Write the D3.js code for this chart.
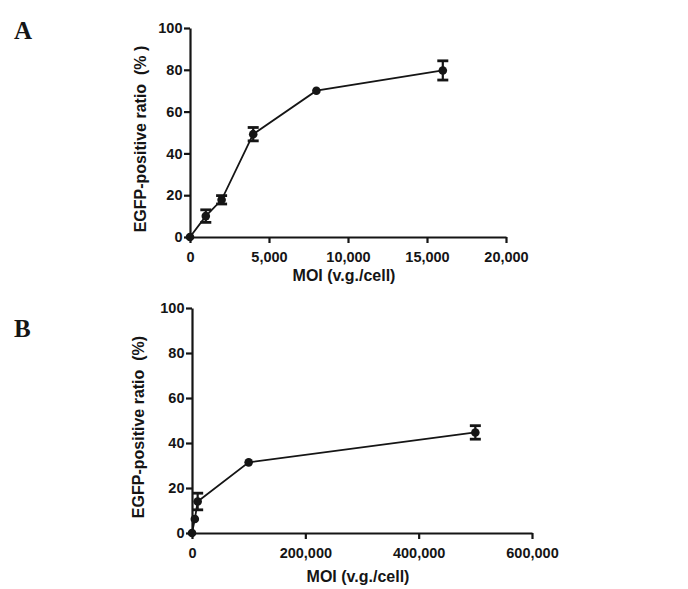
<!DOCTYPE html>
<html><head><meta charset="utf-8">
<script src="https://cdn.jsdelivr.net/npm/d3@7"></script>
<style>body{margin:0;background:#fff}svg{display:block}</style>
</head><body>
<svg id="c" width="688" height="589"></svg>
<script>
// Panel A data
const moiA = [0, 1000, 2000, 4000, 8000, 16000];
const ratioA = [0, 10, 17.8, 49.2, 70, 79.7];
const errA = [0, 3, 2, 3.2, 0, 4.6];
const xTicksA = [0, 5000, 10000, 15000, 20000];
// Panel B data
const moiB = [0, 5000, 10000, 100000, 500000];
const ratioB = [0, 6.2, 14, 31.4, 44.7];
const errB = [0, 0, 3.7, 0, 3];
const xTicksB = [0, 200000, 400000, 600000];
const yTicks = [0, 20, 40, 60, 80, 100];

const svg = d3.select("#c");
const ink = "#151515";
const fmt = d3.format(",");
const sans = "'Liberation Sans', Arial, sans-serif";

function panel(o) {
  const x = d3.scaleLinear().domain(o.xDomain).range([o.x0, o.x1]);
  const y = d3.scaleLinear().domain([0, 100]).range([o.y0, o.y1]);
  const g = svg.append("g");

  const xa = g.append("g").attr("transform", `translate(0,${o.y0})`)
    .call(d3.axisBottom(x).tickValues(o.xTicks).tickFormat(fmt).tickSize(6).tickSizeOuter(0));
  const ya = g.append("g").attr("transform", `translate(${o.x0},0)`)
    .call(d3.axisLeft(y).tickValues(yTicks).tickSize(6).tickSizeOuter(0));
  [xa, ya].forEach(a => {
    a.selectAll("path,line").attr("stroke", ink).attr("stroke-width", 2.2);
    a.selectAll("text").attr("fill", ink).attr("font-family", sans)
      .attr("font-weight", "bold").attr("font-size", 14.5);
  });
  xa.selectAll("text").attr("dy", "1.1em");
  ya.selectAll("text").attr("dx", "0.1em");

  const pts = o.xs.map((v, i) => ({x: v, y: o.ys[i], e: o.es[i]}));
  g.append("path").datum(pts)
    .attr("d", d3.line().x(d => x(d.x)).y(d => y(d.y)))
    .attr("fill", "none").attr("stroke", ink).attr("stroke-width", 1.8);

  const eb = g.selectAll(".eb").data(pts.filter(d => d.e > 0)).enter().append("g");
  eb.append("line").attr("x1", d => x(d.x)).attr("x2", d => x(d.x))
    .attr("y1", d => y(d.y - d.e)).attr("y2", d => y(d.y + d.e))
    .attr("stroke", ink).attr("stroke-width", 2.2);
  [-1, 1].forEach(s => {
    eb.append("line").attr("x1", d => x(d.x) - 5.5).attr("x2", d => x(d.x) + 5.5)
      .attr("y1", d => y(d.y + s * d.e)).attr("y2", d => y(d.y + s * d.e))
      .attr("stroke", ink).attr("stroke-width", 2.8);
  });

  g.selectAll(".pt").data(pts).enter().append("circle")
    .attr("cx", d => x(d.x)).attr("cy", d => y(d.y)).attr("r", 4.3).attr("fill", ink);

  g.append("text").attr("x", (o.x0 + o.x1) / 2 - 4).attr("y", o.xTitleY)
    .attr("text-anchor", "middle").attr("fill", ink)
    .attr("font-family", sans).attr("font-weight", "bold").attr("font-size", 16)
    .text("MOI (v.g./cell)");
  g.append("text").attr("transform", `translate(${o.yTitleX},${o.yTitleC}) rotate(-90)`)
    .attr("text-anchor", "middle").attr("fill", ink).style("white-space", "pre")
    .attr("font-family", sans).attr("font-weight", "bold").attr("font-size", 16)
    .text(o.yTitle);
  g.append("text").attr("x", 14).attr("y", o.letterY).attr("fill", ink)
    .attr("font-family", "'Liberation Serif', 'Times New Roman', serif").attr("font-weight", "bold").attr("font-size", 25)
    .text(o.letter);
}

panel({xs: moiA, ys: ratioA, es: errA, xTicks: xTicksA, xDomain: [0, 20000],
  x0: 190, x1: 506, y0: 237, y1: 28, xTitleY: 281, yTitleX: 146, yTitleC: 139,
  yTitle: "EGFP-positive ratio  (% )", letter: "A", letterY: 39});
panel({xs: moiB, ys: ratioB, es: errB, xTicks: xTicksB, xDomain: [0, 600000],
  x0: 192, x1: 532, y0: 533, y1: 308, xTitleY: 582, yTitleX: 144, yTitleC: 427,
  yTitle: "EGFP-positive ratio  (%)", letter: "B", letterY: 337});
</script>
</body></html>
